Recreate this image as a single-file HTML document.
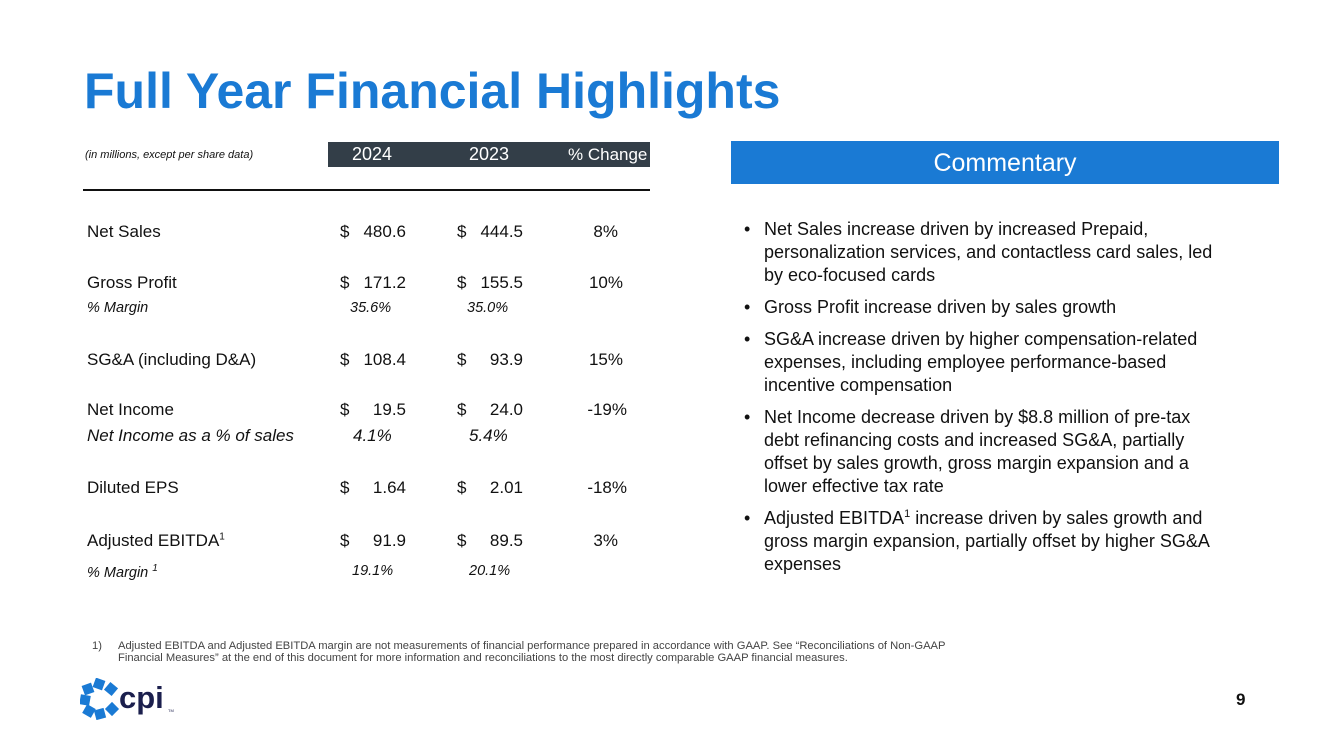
<!DOCTYPE html>
<html><head><meta charset="utf-8">
<style>
body{margin:0;width:1333px;height:749px;background:#fff;position:relative;overflow:hidden;font-family:"Liberation Sans",sans-serif;}
.a{position:absolute;white-space:nowrap;}
.t{font-size:17px;color:#111;}
.i{font-style:italic;font-size:14.5px;color:#111;}
.r{text-align:right;}
.n{position:absolute;white-space:nowrap;font-size:17px;color:#111;text-align:right;}
ul{margin:0;padding:0;list-style:none;}
li{position:relative;padding-left:32px;font-size:18px;line-height:23px;color:#111;margin-bottom:9px;}
li:before{content:"•";position:absolute;left:12px;top:0;}
</style></head><body>
<div class="a" style="left:84px;top:62px;font-size:50px;font-weight:bold;color:#1a7ad4;">Full Year Financial Highlights</div>

<div>
<div class="a" style="left:85px;top:149px;font-size:11px;font-style:italic;color:#111;">(in millions, except per share data)</div>
<div class="a" style="left:328px;top:142px;width:322px;height:25px;background:#333e48;"></div>
<div class="a" style="left:352px;top:144px;font-size:18px;color:#fff;">2024</div>
<div class="a" style="left:469px;top:144px;font-size:18px;color:#fff;">2023</div>
<div class="a" style="left:568px;top:145px;font-size:17px;color:#fff;">% Change</div>
<div class="a" style="left:83px;top:189px;width:567px;height:2px;background:#111;"></div>

<div class="a t" style="left:87px;top:222px;">Net Sales</div>
<div class="a t" style="left:340px;top:222px;">$</div>
<div class="n" style="left:345px;width:61px;top:222px;">480.6</div>
<div class="a t" style="left:457px;top:222px;">$</div>
<div class="n" style="left:462px;width:61px;top:222px;">444.5</div>
<div class="n" style="left:560px;width:58px;top:222px;">8%</div>

<div class="a t" style="left:87px;top:273px;">Gross Profit</div>
<div class="a t" style="left:340px;top:273px;">$</div>
<div class="n" style="left:345px;width:61px;top:273px;">171.2</div>
<div class="a t" style="left:457px;top:273px;">$</div>
<div class="n" style="left:462px;width:61px;top:273px;">155.5</div>
<div class="n" style="left:560px;width:63px;top:273px;">10%</div>
<div class="a i" style="left:87px;top:300px;">% Margin</div>
<div class="a i" style="left:350px;top:300px;">35.6%</div>
<div class="a i" style="left:467px;top:300px;">35.0%</div>

<div class="a t" style="left:87px;top:350px;">SG&amp;A (including D&amp;A)</div>
<div class="a t" style="left:340px;top:350px;">$</div>
<div class="n" style="left:345px;width:61px;top:350px;">108.4</div>
<div class="a t" style="left:457px;top:350px;">$</div>
<div class="n" style="left:462px;width:61px;top:350px;">93.9</div>
<div class="n" style="left:560px;width:63px;top:350px;">15%</div>

<div class="a t" style="left:87px;top:400px;">Net Income</div>
<div class="a t" style="left:340px;top:400px;">$</div>
<div class="n" style="left:345px;width:61px;top:400px;">19.5</div>
<div class="a t" style="left:457px;top:400px;">$</div>
<div class="n" style="left:462px;width:61px;top:400px;">24.0</div>
<div class="n" style="left:560px;width:67px;top:400px;">-19%</div>
<div class="a i" style="left:87px;top:426px;font-size:17px;">Net Income as a % of sales</div>
<div class="a i" style="left:353px;top:426px;font-size:17px;">4.1%</div>
<div class="a i" style="left:469px;top:426px;font-size:17px;">5.4%</div>

<div class="a t" style="left:87px;top:478px;">Diluted EPS</div>
<div class="a t" style="left:340px;top:478px;">$</div>
<div class="n" style="left:345px;width:61px;top:478px;">1.64</div>
<div class="a t" style="left:457px;top:478px;">$</div>
<div class="n" style="left:462px;width:61px;top:478px;">2.01</div>
<div class="n" style="left:560px;width:67px;top:478px;">-18%</div>

<div class="a t" style="left:87px;top:531px;">Adjusted EBITDA<sup style="font-size:10px">1</sup></div>
<div class="a t" style="left:340px;top:531px;">$</div>
<div class="n" style="left:345px;width:61px;top:531px;">91.9</div>
<div class="a t" style="left:457px;top:531px;">$</div>
<div class="n" style="left:462px;width:61px;top:531px;">89.5</div>
<div class="n" style="left:560px;width:58px;top:531px;">3%</div>
<div class="a i" style="left:87px;top:563px;">% Margin <sup style="font-size:10px">1</sup></div>
<div class="a i" style="left:352px;top:563px;">19.1%</div>
<div class="a i" style="left:469px;top:563px;">20.1%</div>
</div>

<div class="a" style="left:731px;top:141px;width:548px;height:43px;background:#1a7ad4;color:#fff;font-size:25px;text-align:center;line-height:44px;">Commentary</div>
<div class="a" style="left:732px;top:218px;width:495px;white-space:normal;">
<ul>
<li>Net Sales increase driven by increased Prepaid, personalization services, and contactless card sales, led by eco-focused cards</li>
<li>Gross Profit increase driven by sales growth</li>
<li>SG&amp;A increase driven by higher compensation-related expenses, including employee performance-based incentive compensation</li>
<li>Net Income decrease driven by $8.8 million of pre-tax debt refinancing costs and increased SG&amp;A, partially offset by sales growth, gross margin expansion and a lower effective tax rate</li>
<li>Adjusted EBITDA<sup style="font-size:11px;line-height:0">1</sup> increase driven by sales growth and gross margin expansion, partially offset by higher SG&amp;A expenses</li>
</ul></div>

<div class="a" style="left:92px;top:640px;font-size:11.2px;line-height:12px;color:#444;">1)<span style="position:absolute;left:26px;">Adjusted EBITDA and Adjusted EBITDA margin are not measurements of financial performance prepared in accordance with GAAP. See “Reconciliations of Non-GAAP<br>Financial Measures” at the end of this document for more information and reconciliations to the most directly comparable GAAP financial measures.</span></div>

<div class="a" style="left:80px;top:678px;width:100px;height:42px;">
<svg width="100" height="42" viewBox="0 0 100 42">
<g fill="#1a7ad4">
<rect x="14" y="1" width="10" height="10" transform="rotate(20 19 6)"/>
<rect x="26" y="6" width="10" height="10" transform="rotate(40 31 11)"/>
<rect x="3" y="6" width="10" height="10" transform="rotate(-20 8 11)"/>
<rect x="0" y="17" width="10" height="10" transform="rotate(10 5 22)"/>
<rect x="4" y="28" width="10" height="10" transform="rotate(30 9 33)"/>
<rect x="15" y="31" width="10" height="10" transform="rotate(-15 20 36)"/>
<rect x="27" y="26" width="10" height="10" transform="rotate(45 32 31)"/>
</g>
<text x="39" y="30" font-family="Liberation Sans, sans-serif" font-weight="bold" font-size="31" fill="#1b1f4d">cpi</text>
<text x="88" y="34" font-family="Liberation Sans, sans-serif" font-size="4" fill="#1b1f4d">TM</text>
</svg></div>
<div class="a" style="left:1236px;top:690px;font-size:17px;font-weight:bold;color:#111;">9</div>
</body></html>
